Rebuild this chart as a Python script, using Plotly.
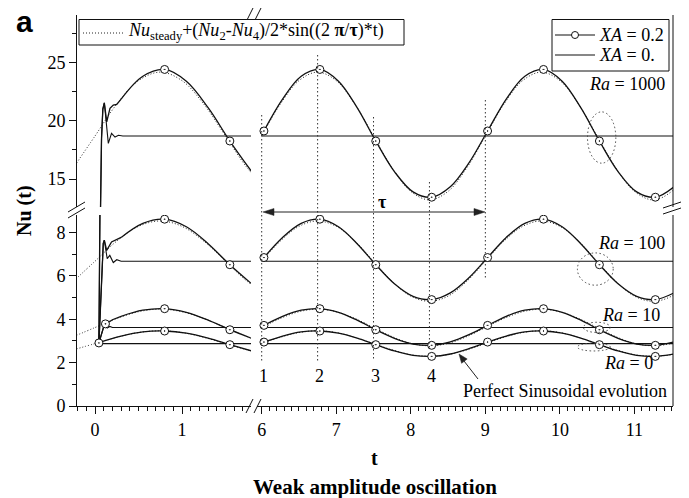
import plotly.graph_objects as go

# ---------------- data ----------------
ra_labels = ["Ra = 1000", "Ra = 100", "Ra = 10", "Ra = 0"]
steady_nu = [18.69, 6.68, 3.62, 2.88]          # XA = 0. plateau values

# right panel, XA = 0.2 solid curves
t_right = [6.0, 6.28, 6.53, 6.78, 7.03, 7.28, 7.53, 7.78, 8.03, 8.28, 8.53, 8.78,
           9.03, 9.28, 9.53, 9.78, 10.03, 10.28, 10.53, 10.78, 11.03, 11.28, 11.53]
ra1000_xa02_right = [18.78, 21.86, 23.82, 24.40, 23.39, 21.12, 18.26, 15.64, 13.90, 13.44, 14.33, 16.38,
                     19.12, 21.86, 23.82, 24.40, 23.39, 21.12, 18.26, 15.64, 13.90, 13.44, 14.33]
ra100_xa02_right = [6.73, 7.78, 8.43, 8.62, 8.27, 7.49, 6.52, 5.64, 5.06, 4.91, 5.22, 5.92,
                    6.85, 7.78, 8.43, 8.62, 8.27, 7.49, 6.52, 5.64, 5.06, 4.91, 5.22]
ra10_xa02_right = [3.67, 4.14, 4.42, 4.49, 4.32, 3.96, 3.52, 3.12, 2.86, 2.80, 2.96, 3.29,
                   3.72, 4.14, 4.42, 4.49, 4.32, 3.96, 3.52, 3.12, 2.86, 2.80, 2.96]
ra0_xa02_right = [2.91, 3.23, 3.42, 3.46, 3.36, 3.13, 2.83, 2.54, 2.34, 2.29, 2.40, 2.65,
                  2.95, 3.23, 3.42, 3.46, 3.36, 3.13, 2.83, 2.54, 2.34, 2.29, 2.40]

# circle markers on the XA = 0.2 curves (right panel)
t_marks_right = [6.03, 6.78, 7.53, 8.28, 9.03, 9.78, 10.53, 11.28]
ra1000_marks_right = [19.12, 24.40, 18.26, 13.44, 19.12, 24.40, 18.26, 13.44]
ra100_marks_right = [6.85, 8.62, 6.52, 4.91, 6.85, 8.62, 6.52, 4.91]
ra10_marks_right = [3.72, 4.49, 3.52, 2.80, 3.72, 4.49, 3.52, 2.80]
ra0_marks_right = [2.95, 3.46, 2.83, 2.29, 2.95, 3.46, 2.83, 2.29]

# perfect sinusoid (dotted), both panels
t_sin_right = [6.0, 6.25, 6.5, 6.75, 7.0, 7.25, 7.5, 7.75, 8.0, 8.25, 8.5, 8.75,
               9.0, 9.25, 9.5, 9.75, 10.0, 10.25, 10.5, 10.75, 11.0, 11.25, 11.5, 11.75]
ra1000_sin_right = [18.69, 21.43, 23.44, 24.17, 23.44, 21.43, 18.69, 15.95, 13.94, 13.21, 13.94, 15.95,
                    18.69, 21.43, 23.44, 24.17, 23.44, 21.43, 18.69, 15.95, 13.94, 13.21, 13.94, 15.95]
ra100_sin_right = [6.68, 7.61, 8.29, 8.54, 8.29, 7.61, 6.68, 5.75, 5.07, 4.83, 5.07, 5.75,
                   6.68, 7.61, 8.29, 8.54, 8.29, 7.61, 6.68, 5.75, 5.07, 4.83, 5.07, 5.75]
ra10_sin_right = [3.62, 4.04, 4.35, 4.47, 4.35, 4.04, 3.62, 3.20, 2.89, 2.78, 2.89, 3.20,
                  3.62, 4.04, 4.35, 4.47, 4.35, 4.04, 3.62, 3.20, 2.89, 2.78, 2.89, 3.20]
ra0_sin_right = [2.88, 3.17, 3.39, 3.47, 3.39, 3.17, 2.88, 2.59, 2.37, 2.30, 2.37, 2.59,
                 2.88, 3.17, 3.39, 3.47, 3.39, 3.17, 2.88, 2.59, 2.37, 2.30, 2.37, 2.59]
t_sin_left = [-0.25, 0.0, 0.25, 0.5, 0.75, 1.0, 1.25, 1.5, 1.75, 2.0]
ra1000_sin_left = [15.95, 18.69, 21.43, 23.44, 24.17, 23.44, 21.43, 18.69, 15.95, 13.94]
ra100_sin_left = [5.75, 6.68, 7.61, 8.29, 8.54, 8.29, 7.61, 6.68, 5.75, 5.07]
ra10_sin_left = [3.20, 3.62, 4.04, 4.35, 4.47, 4.35, 4.04, 3.62, 3.20, 2.89]
ra0_sin_left = [2.59, 2.88, 3.17, 3.39, 3.47, 3.39, 3.17, 2.88, 2.59, 2.37]

# left panel: start-up transients (linear) and smooth part (spline)
ra1000_xa02_tr_t = [0.045, 0.075, 0.09, 0.107, 0.135, 0.172, 0.21, 0.25, 0.3]
ra1000_xa02_tr_nu = [2.91, 18.5, 21.0, 21.54, 19.9, 21.06, 21.35, 21.4, 21.86]
ra100_xa02_tr_t = [0.045, 0.08, 0.095, 0.107, 0.134, 0.19, 0.25, 0.3]
ra100_xa02_tr_nu = [2.91, 6.5, 7.5, 7.65, 7.18, 7.57, 7.7, 7.78]
ra10_xa02_tr_t = [0.045, 0.11, 0.15, 0.2, 0.3]
ra10_xa02_tr_nu = [2.91, 3.79, 3.85, 3.98, 4.14]

t_left_smooth = [0.3, 0.55, 0.8, 1.05, 1.3, 1.55, 1.8]
ra1000_xa02_left = [21.86, 23.82, 24.40, 23.39, 21.12, 18.26, 15.64]
ra100_xa02_left = [7.78, 8.43, 8.62, 8.27, 7.49, 6.52, 5.64]
ra10_xa02_left = [4.14, 4.42, 4.49, 4.32, 3.96, 3.52, 3.12]
ra0_xa02_left_t = [0.045, 0.3, 0.55, 0.8, 1.05, 1.3, 1.55, 1.8]
ra0_xa02_left = [2.93, 3.23, 3.42, 3.46, 3.36, 3.13, 2.83, 2.54]

ra1000_xa0_left_t = [0.045, 0.075, 0.09, 0.107, 0.153, 0.19, 0.23, 0.27, 0.32, 1.8]
ra1000_xa0_left = [2.91, 18.5, 21.0, 21.54, 18.06, 18.92, 18.6, 18.75, 18.69, 18.69]
ra100_xa0_left_t = [0.045, 0.08, 0.095, 0.107, 0.14, 0.17, 0.21, 0.25, 0.3, 1.8]
ra100_xa0_left = [2.91, 6.5, 7.5, 7.65, 6.80, 6.95, 6.62, 6.75, 6.68, 6.68]
ra10_xa0_left_t = [0.045, 0.11, 0.14, 0.17, 0.2, 1.8]
ra10_xa0_left = [2.91, 3.79, 3.60, 3.67, 3.62, 3.62]
ra0_xa0_left_t = [0.045, 1.8]
ra0_xa0_left = [2.88, 2.88]

# left panel markers
ra1000_marks_left_t = [0.8, 1.55]
ra1000_marks_left = [24.40, 18.26]
ra100_marks_left_t = [0.8, 1.55]
ra100_marks_left = [8.62, 6.52]
ra10_marks_left_t = [0.12, 0.8, 1.55]
ra10_marks_left = [3.79, 4.49, 3.52]
ra0_marks_left_t = [0.045, 0.8, 1.55]
ra0_marks_left = [2.91, 3.46, 2.83]

steady_t_right = [6.0, 11.6]
event_t = [6.0, 6.75, 7.5, 8.25, 9.0]          # dotted vertical guides
event_labels = ["1", "2", "3", "4"]

x_left_ticks = [0, 1]
x_right_ticks = [6, 7, 8, 9, 10, 11]
y_low_ticks = [0, 2, 4, 6, 8]
y_up_ticks = [15, 20, 25]

# ---------------- layout helpers ----------------
W, H = 689, 498
L, R, T, B = 77, 673, 15, 406
PW, PH = R - L, B - T
def px(x): return (x - L) / PW
def py(y): return (B - y) / PH

SERIF = "Liberation Serif, Times New Roman, serif"
INK = "#111111"
DOTS = "1px,2px"

fig = go.Figure()

def add(xs, ys, xa, mode="lines", **kw):
    for ya in ("y", "y2"):
        fig.add_trace(go.Scatter(x=xs, y=ys, xaxis=xa, yaxis=ya, mode=mode,
                                 showlegend=False, hoverinfo="skip", **kw))

dot = dict(color="#222", width=1, dash=DOTS, shape="spline")
solid = dict(color=INK, width=1.3, shape="spline")
lin = dict(color=INK, width=1.3)
steady = dict(color=INK, width=1.1)
mk = dict(symbol="circle-dot", size=8, color="white", line=dict(color=INK, width=1))

# dotted sinusoids
for ys in (ra1000_sin_left, ra100_sin_left, ra10_sin_left, ra0_sin_left):
    add(t_sin_left, ys, "x", line=dot)
for ys in (ra1000_sin_right, ra100_sin_right, ra10_sin_right, ra0_sin_right):
    add(t_sin_right, ys, "x2", line=dot)

# XA = 0 curves
add(ra1000_xa0_left_t, ra1000_xa0_left, "x", line=steady)
add(ra100_xa0_left_t, ra100_xa0_left, "x", line=steady)
add(ra10_xa0_left_t, ra10_xa0_left, "x", line=steady)
add(ra0_xa0_left_t, ra0_xa0_left, "x", line=steady)
for v in steady_nu:
    add(steady_t_right, [v, v], "x2", line=steady)

# XA = 0.2 curves
add(ra1000_xa02_tr_t, ra1000_xa02_tr_nu, "x", line=lin)
add(ra100_xa02_tr_t, ra100_xa02_tr_nu, "x", line=lin)
add(ra10_xa02_tr_t, ra10_xa02_tr_nu, "x", line=lin)
add(t_left_smooth, ra1000_xa02_left, "x", line=solid)
add(t_left_smooth, ra100_xa02_left, "x", line=solid)
add(t_left_smooth, ra10_xa02_left, "x", line=solid)
add(ra0_xa02_left_t, ra0_xa02_left, "x", line=solid)
for ys in (ra1000_xa02_right, ra100_xa02_right, ra10_xa02_right, ra0_xa02_right):
    add(t_right, ys, "x2", line=solid)

# markers
add(ra1000_marks_left_t, ra1000_marks_left, "x", mode="markers", marker=mk)
add(ra100_marks_left_t, ra100_marks_left, "x", mode="markers", marker=mk)
add(ra10_marks_left_t, ra10_marks_left, "x", mode="markers", marker=mk)
add(ra0_marks_left_t, ra0_marks_left, "x", mode="markers", marker=mk)
for ys in (ra1000_marks_right, ra100_marks_right, ra10_marks_right, ra0_marks_right):
    add(t_marks_right, ys, "x2", mode="markers", marker=mk)

tickfont = dict(family=SERIF, size=18, color="black")
ax_common = dict(showline=True, linecolor=INK, linewidth=1, ticks="outside", ticklen=7,
                 tickwidth=1, tickcolor=INK, showgrid=False, zeroline=False, tickfont=tickfont)
xl_dom = [0, px(251)]
xr_dom = [px(257), 1]
xl_rng = [-0.207, 1.793]
xr_rng = [5.937, 11.517]
minor_x = dict(dtick=0.1, tick0=0, ticks="outside", ticklen=4, tickcolor=INK, tickwidth=1)

fig.update_layout(
    width=W, height=H, margin=dict(l=L, r=W - R, t=T, b=H - B, pad=0),
    paper_bgcolor="white", plot_bgcolor="rgba(0,0,0,0)", showlegend=False,
    xaxis=dict(domain=xl_dom, range=xl_rng, anchor="y", tickvals=x_left_ticks, minor=minor_x, **ax_common),
    xaxis2=dict(domain=xr_dom, range=xr_rng, anchor="y", tickvals=x_right_ticks, minor=minor_x, **ax_common),
    xaxis3=dict(domain=xl_dom, range=xl_rng, anchor="y2", side="top", tickvals=x_left_ticks,
                showticklabels=False, minor=minor_x, **ax_common),
    xaxis4=dict(domain=xr_dom, range=xr_rng, anchor="y2", side="top", tickvals=x_right_ticks,
                showticklabels=False, minor=minor_x, **ax_common),
    yaxis=dict(domain=[0, py(215)], range=[0, 8.814], anchor="x", tickvals=y_low_ticks,
               minor=dict(dtick=1, tick0=0, ticks="outside", ticklen=4, tickcolor=INK), **ax_common),
    yaxis2=dict(domain=[py(207), 1], range=[12.6, 29.07], anchor="x", tickvals=y_up_ticks,
                minor=dict(dtick=2.5, tick0=0, ticks="outside", ticklen=4, tickcolor=INK), **ax_common),
)

shapes = []
def pline(x0, y0, x1, y1, color=INK, width=1, dash=None):
    d = dict(type="line", xref="paper", yref="paper", x0=px(x0), y0=py(y0), x1=px(x1), y1=py(y1),
             line=dict(color=color, width=width))
    if dash:
        d["line"]["dash"] = dash
    shapes.append(d)

def ptri(pts, color="#222"):
    path = "M " + " L ".join(f"{px(a):.5f},{py(b):.5f}" for a, b in pts) + " Z"
    shapes.append(dict(type="path", xref="paper", yref="paper", path=path,
                       fillcolor=color, line=dict(color=color, width=0.5)))

# right frame with break
pline(673, 15, 673, 207)
pline(673, 215, 673, 406)
# break marks
pline(68, 218, 85, 208); pline(68, 212, 85, 202)            # left axis
pline(663, 214, 681, 208); pline(663, 208, 681, 202)        # right axis
pline(246, 413, 253, 399); pline(254, 413, 261, 399)        # bottom axis
pline(246, 22, 253, 8); pline(254, 22, 261, 8)              # top axis

# dotted vertical guides (pixel extents)
guide_top = [115, 55, 117, 182, 100]
guide_bot = [363, 362, 360, 350, 278]
for t, y0, y1 in zip(event_t, guide_top, guide_bot):
    shapes.append(dict(type="line", xref="x2", yref="paper", x0=t, x1=t, y0=py(y0), y1=py(y1),
                       line=dict(color="#333", width=1, dash="1.5px,2.5px")))

# dotted ellipses around the t = 10.53 markers
ell = [("y2", 0.03, ra1000_marks_right[6] + 0.30, 0.19, 2.2),
       ("y", -0.055, ra100_marks_right[6] - 0.20, 0.24, 0.745),
       ("y", -0.035, ra10_marks_right[6] + 0.11, 0.18, 0.235),
       ("y", -0.075, ra0_marks_right[6] - 0.11, 0.22, 0.18)]
for yr, dx, cy, hw, hh in ell:
    cx = t_marks_right[6] + dx
    shapes.append(dict(type="circle", xref="x2", yref=yr, x0=cx - hw, x1=cx + hw, y0=cy - hh, y1=cy + hh,
                       line=dict(color="#444", width=1, dash="1.5px,2.5px")))

# tau double arrow
pline(272, 212, 476, 212, color="#222")
ptri([(263, 212), (274, 208.5), (274, 215.5)])
ptri([(485, 212), (474, 208.5), (474, 215.5)])
# arrow to the Ra = 0 curve
pline(478, 379, 464, 361, color="#222")
ptri([(459, 354), (467.2, 359.0), (461.6, 363.3)])

# legend boxes
def prect(x0, y0, x1, y1, **kw):
    shapes.append(dict(type="rect", xref="paper", yref="paper", x0=px(x0), y0=py(y0), x1=px(x1), y1=py(y1), **kw))
prect(79, 19.5, 404, 45, line=dict(color=INK, width=1), fillcolor="white")
pline(83, 33, 123, 33, color="#222", dash=DOTS)
prect(552, 19.5, 669, 71, line=dict(color=INK, width=1), fillcolor="white")
pline(555, 35, 595, 35, width=1.2)
pline(555, 55, 595, 55, width=1.2)
shapes.append(dict(type="circle", xref="paper", yref="paper", x0=px(571.5), x1=px(578.5), y0=py(38.5), y1=py(31.5),
                   line=dict(color=INK, width=1), fillcolor="white"))
fig.update_layout(shapes=shapes)

ann = []
def text(x, y, s, size=18, xanchor="center", bold=False, family=SERIF, textangle=0):
    ann.append(dict(x=px(x), y=py(y), xref="paper", yref="paper", text=(f"<b>{s}</b>" if bold else s),
                    showarrow=False, xanchor=xanchor, yanchor="middle", textangle=textangle,
                    font=dict(family=family, size=size, color="black")))

text(126, 32, "<i>Nu</i><sub>steady</sub>+(<i>Nu</i><sub>2</sub>-<i>Nu</i><sub>4</sub>)/2*sin((2 <b>π</b>/<b>τ</b>)*t)",
     size=18, xanchor="left")
text(597, 35, "<i>XA</i> = 0.2", xanchor="left")
text(597, 55, "<i>XA</i> = 0.", xanchor="left")
lab_y = [84, 243, 315, 363]
lab_r = [667, 667, 662, 655]
for s, y, r in zip(ra_labels, lab_y, lab_r):
    text(r, y, "<i>Ra</i>" + s[2:], xanchor="right")
text(669, 391, "Perfect Sinusoidal evolution", xanchor="right")
for i, s in enumerate(event_labels):
    ann.append(dict(x=t_marks_right[i], y=py(376), xref="x2", yref="paper", text=s, showarrow=False,
                    xanchor="center", yanchor="middle", font=dict(family=SERIF, size=18, color="black")))
text(382, 202, "τ", bold=True)
text(24, 22, "a", size=30, bold=True, family="Liberation Sans, Arial, sans-serif")
text(24, 211, "Nu (t)", size=20, bold=True, textangle=-90)
text(374, 458, "t", size=20, bold=True)
text(375, 487, "Weak amplitude oscillation", size=21, bold=True)
fig.update_layout(annotations=ann)

fig.write_html("out.html")
